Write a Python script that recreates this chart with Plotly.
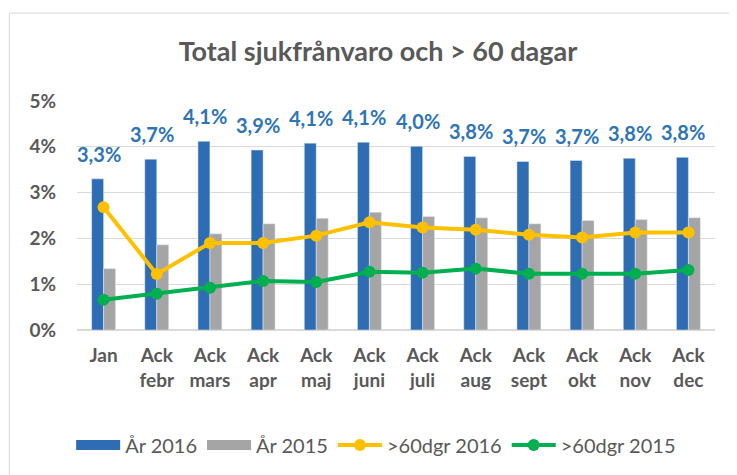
import plotly.graph_objects as go

categories = ["Jan", "Ack<br>febr", "Ack<br>mars", "Ack<br>apr", "Ack<br>maj", "Ack<br>juni",
              "Ack<br>juli", "Ack<br>aug", "Ack<br>sept", "Ack<br>okt", "Ack<br>nov", "Ack<br>dec"]
ar2016 = [0.0330, 0.0373, 0.0412, 0.0393, 0.0408, 0.0410, 0.0401, 0.0379, 0.0368, 0.0370, 0.0375, 0.0377]
ar2015 = [0.0134, 0.0186, 0.0210, 0.0232, 0.0244, 0.0257, 0.0248, 0.0245, 0.0232, 0.0239, 0.0241, 0.0245]
dgr2016 = [0.0268, 0.0122, 0.0190, 0.0190, 0.0206, 0.0235, 0.0224, 0.0219, 0.0208, 0.0202, 0.0213, 0.0213]
dgr2015 = [0.0066, 0.0079, 0.0092, 0.0107, 0.0105, 0.0127, 0.0125, 0.0134, 0.0123, 0.0123, 0.0123, 0.0131]
labels2016 = ["3,3%", "3,7%", "4,1%", "3,9%", "4,1%", "4,1%", "4,0%", "3,8%", "3,7%", "3,7%", "3,8%", "3,8%"]

FONT = "Lato"
GREY = "#595959"
BLUE = "#2E6DB4"
SILVER = "#A5A5A5"

fig = go.Figure()
fig.add_trace(go.Bar(x=categories, y=ar2016, name="År 2016", marker_color=BLUE, showlegend=False))
fig.add_trace(go.Bar(x=categories, y=ar2015, name="År 2015", marker_color=SILVER, showlegend=False))
# legend-only entries drawn as wide thick swatches, like the reference legend
fig.add_trace(go.Scatter(x=[None], y=[None], name="År 2016", mode="lines",
                         line=dict(color=BLUE, width=11)))
fig.add_trace(go.Scatter(x=[None], y=[None], name="År 2015", mode="lines",
                         line=dict(color=SILVER, width=11)))
fig.add_trace(go.Scatter(x=categories, y=dgr2016, name=">60dgr 2016", mode="lines+markers",
                         line=dict(color="#FFC000", width=4), marker=dict(size=12, color="#FFC000")))
fig.add_trace(go.Scatter(x=categories, y=dgr2015, name=">60dgr 2015", mode="lines+markers",
                         line=dict(color="#00B050", width=4), marker=dict(size=12, color="#00B050")))

for c, v, t in zip(categories, ar2016, labels2016):
    fig.add_annotation(x=c, y=v, text=t, showarrow=False, yanchor="bottom", yshift=11,
                       xshift=-5,
                       font=dict(family=FONT, size=20, color="#2E75B6", weight="bold"))

fig.add_shape(type="rect", xref="paper", yref="paper", x0=-0.106, x1=1.1, y0=-0.7, y1=1.384,
              line=dict(color="#D9D9D9", width=1), fillcolor="rgba(0,0,0,0)", layer="below")

fig.update_layout(
    width=729, height=467,
    margin=dict(l=69, r=22, t=93, b=145, autoexpand=False),
    paper_bgcolor="white", plot_bgcolor="white",
    title=dict(text="Total sjukfrånvaro och > 60 dagar", x=0.5075, xanchor="center",
               y=0.906, yanchor="middle", xref="container", yref="container",
               font=dict(family=FONT, size=27, color=GREY, weight="bold")),
    barmode="group", bargap=0.55, bargroupgap=0,
    font=dict(family=FONT, color=GREY),
    legend=dict(orientation="h", x=0.505, xanchor="center", y=0.064, yanchor="middle",
                xref="container", yref="container", itemwidth=44,
                font=dict(family=FONT, size=20, color=GREY), tracegroupgap=0),
    showlegend=True,
)
fig.update_yaxes(range=[0, 0.05], dtick=0.01, tickformat=".0%", showgrid=True, gridcolor="#D9D9D9",
                 zeroline=True, zerolinecolor="#D9D9D9", ticks="", ticklabelstandoff=20,
                 automargin=False,
                 tickfont=dict(family=FONT, size=19, color=GREY, weight="bold"))
fig.update_xaxes(range=[-0.5, 11.5], showgrid=False, showline=False, ticks="", automargin=False,
                 ticklabelstandoff=12,
                 tickfont=dict(family=FONT, size=19, color=GREY, weight="bold"))

fig.write_html("out.html")
